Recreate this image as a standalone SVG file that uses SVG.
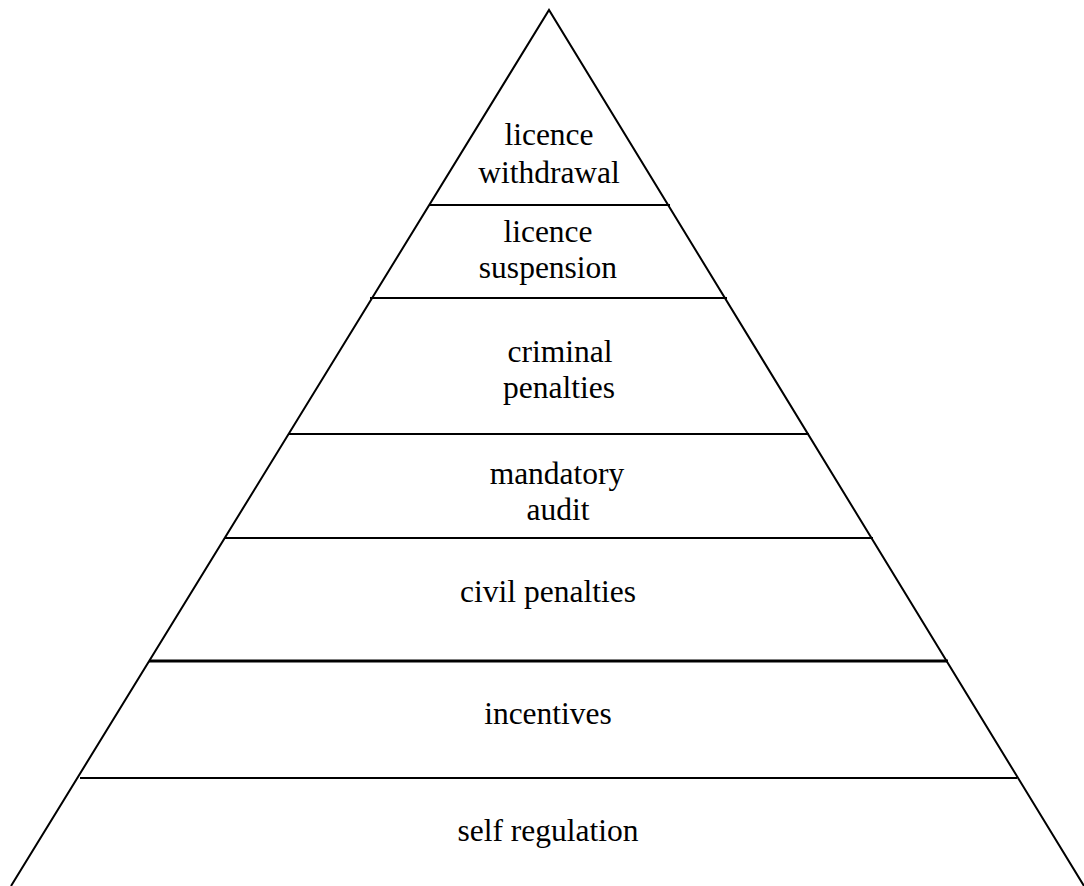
<svg xmlns="http://www.w3.org/2000/svg" width="1084" height="886" viewBox="0 0 1084 886">
<style>
.edge{stroke:#000;stroke-width:2;fill:none;stroke-linecap:butt}
.lbl{font-family:"Liberation Serif","Times New Roman",serif;font-size:31.5px;fill:#000;text-anchor:middle}
</style>
<rect width="1084" height="886" fill="#fff"/>
<g id="connectors">
<path class="edge" d="M11,886 L549,10 L1084,886"/>
<line class="edge" x1="429" y1="205" x2="670" y2="205"/>
<line class="edge" x1="370" y1="298" x2="727" y2="298"/>
<line class="edge" x1="289" y1="434" x2="809" y2="434"/>
<line class="edge" x1="225" y1="538" x2="873" y2="538"/>
<line class="edge" x1="149" y1="661" x2="948" y2="661" style="stroke-width:3"/>
<line class="edge" x1="80" y1="778" x2="1017" y2="778"/>
</g>
<g id="licence-withdrawal"><text class="lbl" x="549" y="145">licence</text><text class="lbl" x="549" y="183">withdrawal</text></g>
<g id="licence-suspension"><text class="lbl" x="548" y="242">licence</text><text class="lbl" x="548" y="278">suspension</text></g>
<g id="criminal-penalties"><text class="lbl" x="560" y="362">criminal</text><text class="lbl" x="559" y="398">penalties</text></g>
<g id="mandatory-audit"><text class="lbl" x="557" y="484">mandatory</text><text class="lbl" x="558" y="520">audit</text></g>
<g id="civil-penalties"><text class="lbl" x="548" y="602">civil penalties</text></g>
<g id="incentives"><text class="lbl" x="548" y="724">incentives</text></g>
<g id="self-regulation"><text class="lbl" x="548" y="841">self regulation</text></g>
</svg>
